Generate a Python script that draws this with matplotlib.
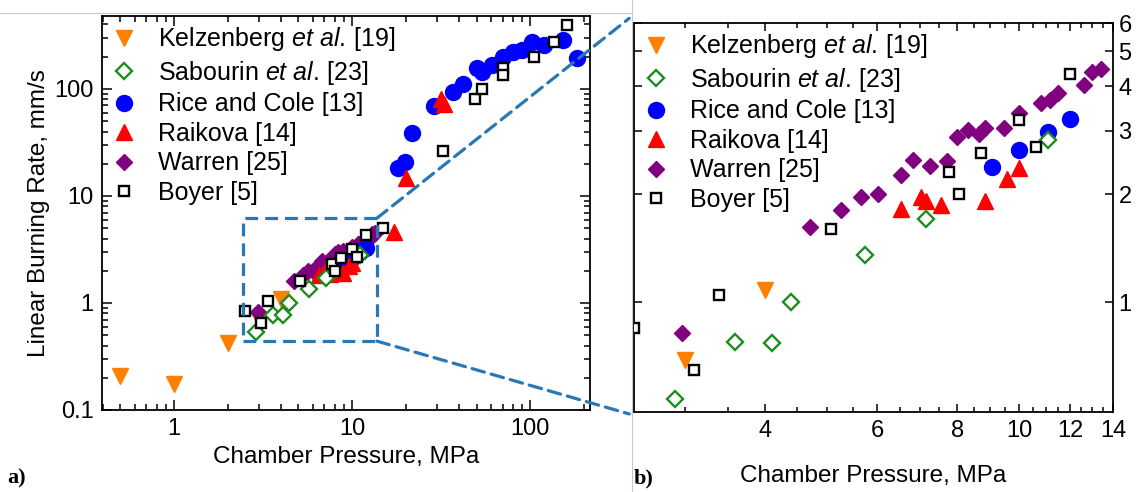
import numpy as np
import matplotlib
matplotlib.use("Agg")
import matplotlib.pyplot as plt
from matplotlib.ticker import FixedLocator, NullLocator, NullFormatter, LogLocator, FuncFormatter
from matplotlib.patches import Rectangle, ConnectionPatch
from matplotlib.lines import Line2D

plt.rcParams['font.family'] = ['Liberation Sans', 'DejaVu Sans']
plt.rcParams['mathtext.fontset'] = 'custom'
plt.rcParams['mathtext.rm'] = 'Liberation Sans'
plt.rcParams['mathtext.it'] = 'Liberation Sans:italic'

# data: chamber pressure (MPa) and burning rate (mm/s)
kelz_p = [0.5, 1.0, 2.0, 3.0, 4.0]
kelz_r = [0.21, 0.175, 0.42, 0.69, 1.08]

sab_p = [2.9, 3.6, 4.1, 4.4, 5.73, 7.14, 11.1]
sab_r = [0.536, 0.775, 0.767, 1.00, 1.35, 1.71, 2.83]

rice_p = [9.06, 9.97, 11.1, 12.0, 18.2, 19.9, 21.6, 28.9, 36.8, 42.2, 50.2, 53.5,
          60.9, 70.8, 80.6, 89.8, 102, 119, 154, 183]
rice_r = [2.38, 2.65, 2.98, 3.25, 18.2, 20.9, 39, 69, 94, 111, 156, 145,
          168, 200, 223, 231, 277, 258, 287, 194]

raik_p = [6.54, 7.03, 7.15, 7.54, 8.84, 9.56, 10.0, 17.1, 20.1, 31.5, 33.0]
raik_r = [1.82, 1.97, 1.92, 1.86, 1.92, 2.21, 2.36, 4.64, 14.6, 80, 72]

warren_p = [2.97, 4.70, 5.27, 5.66, 6.02, 6.53, 6.82, 7.25, 7.70, 7.98, 8.32, 8.64,
            8.84, 9.45, 10.0, 10.79, 11.18, 11.5, 12.6, 13.0, 13.4]
warren_r = [0.818, 1.62, 1.81, 1.97, 2.00, 2.26, 2.49, 2.40, 2.47, 2.89, 3.02, 2.95,
            3.05, 3.05, 3.36, 3.58, 3.66, 3.82, 4.03, 4.39, 4.48]

boyer_p = [2.5, 3.10, 3.39, 5.08, 7.75, 8.05, 8.72, 9.98, 10.6, 12.0, 15.0, 32.3,
           49.1, 53.5, 70.3, 70.3, 105, 136, 162]
boyer_r = [0.845, 0.646, 1.05, 1.60, 2.31, 2.00, 2.61, 3.22, 2.71, 4.32, 4.99, 26.5,
           80, 99, 156, 135, 198, 277, 396]

labels = ['Kelzenberg $\\it{et\\ al.}\\,$[19]', 'Sabourin $\\it{et\\ al.}\\,$[23]',
          'Rice and Cole [13]', 'Raikova [14]', 'Warren [25]', 'Boyer [5]']

# zoom box (MPa, mm/s)
box_p = [2.45, 13.8]
box_r = [0.44, 6.2]

W, H = 1138, 492
fig = plt.figure(figsize=(W / 100, H / 100), dpi=100)


def px_axes(x0, y0, x1, y1):
    return fig.add_axes([x0 / W, 1 - y1 / H, (x1 - x0) / W, (y1 - y0) / H])


ax1 = px_axes(102, 16, 590, 410)
ax2 = px_axes(634, 23, 1113, 412)

styles = [
    dict(marker='v', color='#FF8000', ms=11.5, ls='none', zorder=3),
    dict(marker='D', mfc='white', mec='#1E8C1E', mew=1.7, ms=7.8, ls='none', zorder=5),
    dict(marker='o', color='#0000FF', ms=11.5, ls='none', zorder=4),
    dict(marker='^', color='#FF0000', ms=12, ls='none', zorder=4),
    dict(marker='D', color='#800080', ms=8.5, ls='none', zorder=3),
    dict(marker='s', mfc='white', mec='black', mew=1.7, ms=7.8, ls='none', zorder=6),
]
series = [(kelz_p, kelz_r), (sab_p, sab_r), (rice_p, rice_r),
          (raik_p, raik_r), (warren_p, warren_r), (boyer_p, boyer_r)]

for ax in (ax1, ax2):
    handles = []
    for (p, r), st, lab in zip(series, styles, labels):
        h, = ax.plot(p, r, label=lab, **st)
        handles.append(h)
    ax.set_xscale('log')
    ax.set_yscale('log')
    for s in ax.spines.values():
        s.set_linewidth(1.3)
    ax.legend(handles=handles, loc='upper left', frameon=False, fontsize=18,
              handlelength=1.0, handletextpad=0.85, labelspacing=0.22,
              borderaxespad=0.32, borderpad=0.05)

fmt = FuncFormatter(lambda v, pos: f'{v:g}')

# left panel
ax1.set_xlim(0.394, 217)
ax1.set_ylim(0.1, 480)
ax1.xaxis.set_major_locator(FixedLocator([1, 10, 100]))
ax1.yaxis.set_major_locator(FixedLocator([0.1, 1, 10, 100]))
ax1.xaxis.set_major_formatter(fmt)
ax1.yaxis.set_major_formatter(fmt)
ax1.xaxis.set_minor_locator(LogLocator(base=10, subs=np.arange(2, 10), numticks=20))
ax1.yaxis.set_minor_locator(LogLocator(base=10, subs=np.arange(2, 10), numticks=20))
ax1.xaxis.set_minor_formatter(NullFormatter())
ax1.yaxis.set_minor_formatter(NullFormatter())
ax1.tick_params(which='both', direction='in', top=True, right=True, labelsize=17, width=1.1)
ax1.tick_params(which='major', length=7, pad=6)
ax1.tick_params(which='minor', length=4)
ax1.set_xlabel('Chamber Pressure, MPa', fontsize=17.5, labelpad=4)
ax1.set_ylabel('Linear Burning Rate, mm/s', fontsize=17.5, labelpad=3)

ax1.add_patch(Rectangle((box_p[0], box_r[0]), box_p[1] - box_p[0], box_r[1] - box_r[0],
                        fill=False, ls=(0, (4, 2.2)), lw=2.3, ec='#2878B5', zorder=7))

# right panel
ax2.set_xlim(2.5, 14)
ax2.set_ylim(0.494, 6)
ax2.xaxis.set_major_locator(FixedLocator([4, 6, 8, 10, 12, 14]))
ax2.xaxis.set_minor_locator(FixedLocator([3, 3.5, 4.5, 5, 5.5, 6.5, 7, 7.5, 8.5, 9, 9.5,
                                          10.5, 11, 11.5, 12.5, 13, 13.5]))
ax2.yaxis.set_major_locator(FixedLocator([1, 2, 3, 4, 5, 6]))
ax2.yaxis.set_minor_locator(NullLocator())
ax2.xaxis.set_major_formatter(fmt)
ax2.yaxis.set_major_formatter(fmt)
ax2.xaxis.set_minor_formatter(NullFormatter())
ax2.yaxis.tick_right()
ax2.tick_params(which='both', direction='in', top=True, left=True, right=True,
                labelsize=17, width=1.1)
ax2.tick_params(which='major', length=6, pad=4)
ax2.tick_params(axis='x', which='major', pad=6)
ax2.tick_params(which='minor', length=3.5)
ax2.set_xlabel('Chamber Pressure, MPa', fontsize=17.5, labelpad=16)

# dashed connectors from the zoom box to panel b
for (yb, ya) in [(box_r[1], 1.012), (box_r[0], -0.005)]:
    con = ConnectionPatch(xyA=(box_p[1], yb), coordsA=ax1.transData,
                          xyB=(-0.01, ya), coordsB=ax2.transAxes,
                          ls=(0, (4, 2.2)), lw=2.3, color='#2878B5', zorder=7)
    fig.add_artist(con)

# thin separators of the original figure
fig.add_artist(Line2D([632 / W, 632 / W], [0, 1], color='#C8C8C8', lw=0.8))
fig.add_artist(Line2D([0, 632 / W], [1 - 13 / H, 1 - 13 / H], color='#C8C8C8', lw=0.8))

fig.text(7 / W, 1 - 483 / H, 'a)', fontsize=16, fontweight='bold',
         family=['Liberation Serif', 'DejaVu Serif'])
fig.text(634 / W, 1 - 483 / H, 'b)', fontsize=16, fontweight='bold',
         family=['Liberation Serif', 'DejaVu Serif'])

fig.savefig('out.png', dpi=100)
